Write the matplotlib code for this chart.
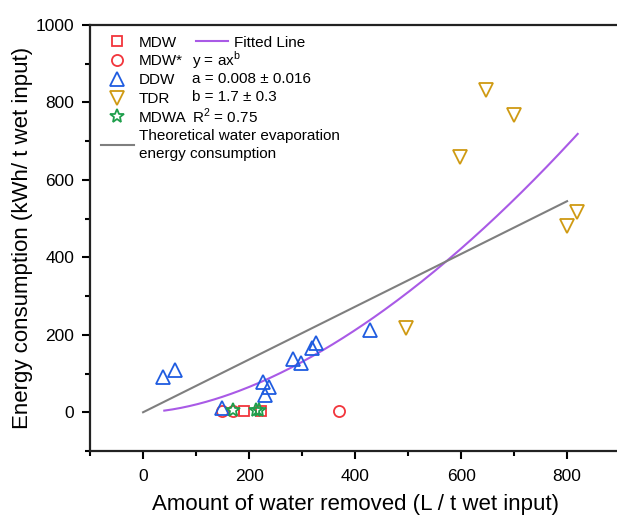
import matplotlib
matplotlib.use("Agg")
import numpy as np
import matplotlib.pyplot as plt
from matplotlib.lines import Line2D
from matplotlib.ticker import MultipleLocator

plt.rcParams['font.family'] = ['Liberation Sans', 'DejaVu Sans']

# data (L / t wet input, kWh / t wet input)
mdw_x = [191, 222]
mdw_y = [3, 3]
mdws_x = [149, 169, 369]
mdws_y = [3, 3, 3]
ddw_x = [38, 60, 149, 226, 238, 230, 282, 298, 318, 326, 428]
ddw_y = [90, 108, 10, 78, 64, 44, 138, 126, 165, 178, 212]
tdr_x = [497, 598, 647, 699, 799, 818]
tdr_y = [218, 660, 832, 768, 482, 518]
mdwa_x = [170, 213, 219]
mdwa_y = [6, 7, 7]

# fit y = a * x^b
fit_a = 0.008
fit_b = 1.7
fit_range = [40, 820]

# theoretical evaporation energy line
theo_x = [0, 800]
theo_y = [0, 545]

fit_lines = [
    r'y = ax$^{\mathregular{b}}$',
    'a = 0.008 \u00b1 0.016',
    'b = 1.7 \u00b1 0.3',
    r'R$^{\mathregular{2}}$ = 0.75',
]

c_red = '#f2353c'
c_blue = '#1f5ce0'
c_gold = '#cf9a12'
c_green = '#1f9f4c'
c_purple = '#a95ae6'
c_gray = '#7f7f7f'

fig = plt.figure(figsize=(6.17, 5.16), dpi=100)
ax = fig.add_axes([0.146, 0.126, 0.859, 0.8256])

x_fit = np.linspace(fit_range[0], fit_range[1], 200)
ax.plot(x_fit, fit_a * x_fit ** fit_b, color=c_purple, lw=1.5, zorder=2)
ax.plot(theo_x, theo_y, color=c_gray, lw=1.5, zorder=2)

mk = dict(linestyle='none', markerfacecolor='none', markeredgewidth=1.3)
ax.plot(mdw_x, mdw_y, marker='s', ms=7, color=c_red, **mk)
ax.plot(mdws_x, mdws_y, marker='o', ms=8, color=c_red, **mk)
ax.plot(ddw_x, ddw_y, marker='^', ms=9.5, color=c_blue, **mk)
ax.plot(tdr_x, tdr_y, marker='v', ms=9.5, color=c_gold, **mk)
ax.plot(mdwa_x, mdwa_y, marker='*', ms=10, color=c_green, **mk)

ax.set_xlim(-100, 900)
ax.set_ylim(-100, 1000)
ax.set_xticks([0, 200, 400, 600, 800])
ax.set_yticks([0, 200, 400, 600, 800, 1000])
ax.xaxis.set_minor_locator(MultipleLocator(100))
ax.yaxis.set_minor_locator(MultipleLocator(100))
ax.tick_params(which='major', direction='out', length=6, width=1.5, labelsize=12.5)
ax.tick_params(axis='x', which='major', pad=7)
ax.tick_params(axis='y', which='major', pad=5.5)
ax.tick_params(which='minor', direction='out', length=3.5, width=1.5)
for s in ax.spines.values():
    s.set_linewidth(1.6)
    s.set_color('#222222')

ax.set_xlabel('Amount of water removed (L / t wet input)', fontsize=16)
ax.set_ylabel('Energy consumption (kWh/ t wet input)', fontsize=16)
ax.xaxis.set_label_coords(0.5, -0.1)
ax.yaxis.set_label_coords(-0.107, 0.5)

# legend, left column
handles = [
    Line2D([], [], marker='s', ms=7, color=c_red, **mk),
    Line2D([], [], marker='o', ms=8, color=c_red, **mk),
    Line2D([], [], marker='^', ms=9.5, color=c_blue, **mk),
    Line2D([], [], marker='v', ms=9.5, color=c_gold, **mk),
    Line2D([], [], marker='*', ms=10, color=c_green, **mk),
    Line2D([], [], color=c_gray, lw=1.5),
]
labels = ['MDW', 'MDW*', 'DDW', 'TDR', 'MDWA',
          'Theoretical water evaporation\nenergy consumption']
leg1 = ax.legend(handles, labels, loc='upper left', bbox_to_anchor=(0.0, 1.0),
                 frameon=False, fontsize=11, handlelength=2.15, handletextpad=0.35,
                 labelspacing=0.31, borderaxespad=0.3)
leg1.get_texts()[-1].set_linespacing(1.35)
ax.add_artist(leg1)

# legend, fit column
leg2 = ax.legend([Line2D([], [], color=c_purple, lw=1.5)], ['Fitted Line'],
                 loc='upper left', bbox_to_anchor=(0.179, 1.0), frameon=False,
                 fontsize=11, handlelength=2.15, handletextpad=0.35, borderaxespad=0.3)

row_y = [0.918, 0.874, 0.830, 0.786]
for txt, yy in zip(fit_lines, row_y):
    ax.text(0.192, yy, txt, transform=ax.transAxes, fontsize=11,
            va='center', ha='left')

fig.savefig('out.png', dpi=100)
